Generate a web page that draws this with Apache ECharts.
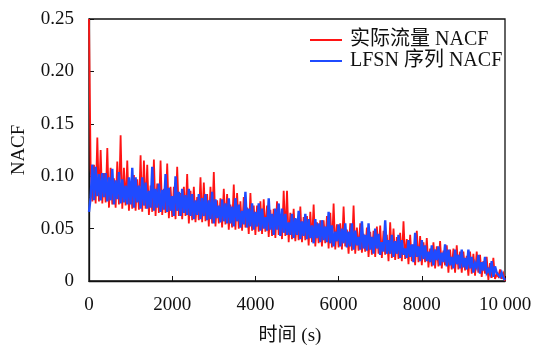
<!DOCTYPE html>
<html>
<head>
<meta charset="utf-8">
<script src="https://cdn.jsdelivr.net/npm/echarts@6/dist/echarts.min.js"></script>
<style>
  html, body { margin: 0; padding: 0; background: #fff; }
  #chart { width: 535px; height: 347px; }
</style>
</head>
<body>
<div id="chart"></div>
<script>
// Lag spacing between stored NACF samples (s)
const LAG_STEP = 40;

// NACF of the measured traffic
const trafficNacf = [
  0.250,0.107,0.076,0.111,0.074,0.137,0.076,0.125,0.074,0.103,
  0.075,0.127,0.070,0.108,0.073,0.098,0.070,0.114,0.073,0.139,
  0.069,0.108,0.072,0.115,0.067,0.095,0.069,0.101,0.067,0.097,
  0.068,0.120,0.066,0.115,0.069,0.111,0.063,0.091,0.066,0.116,
  0.062,0.093,0.065,0.115,0.063,0.088,0.065,0.112,0.060,0.090,
  0.061,0.090,0.059,0.109,0.062,0.084,0.059,0.090,0.062,0.102,
  0.055,0.086,0.058,0.090,0.056,0.080,0.058,0.099,0.056,0.094,
  0.057,0.083,0.052,0.090,0.055,0.104,0.052,0.077,0.055,0.079,
  0.051,0.088,0.054,0.083,0.049,0.073,0.051,0.092,0.049,0.084,
  0.050,0.076,0.048,0.080,0.051,0.070,0.045,0.084,0.048,0.072,
  0.044,0.072,0.047,0.076,0.045,0.078,0.047,0.072,0.042,0.068,
  0.043,0.069,0.041,0.076,0.044,0.063,0.040,0.086,0.043,0.086,
  0.037,0.065,0.040,0.069,0.038,0.059,0.039,0.071,0.037,0.061,
  0.039,0.062,0.034,0.066,0.037,0.073,0.033,0.056,0.036,0.058,
  0.033,0.058,0.036,0.062,0.031,0.065,0.032,0.074,0.030,0.054,
  0.032,0.055,0.030,0.071,0.033,0.049,0.026,0.055,0.029,0.072,
  0.026,0.051,0.029,0.055,0.027,0.045,0.028,0.051,0.023,0.047,
  0.025,0.048,0.023,0.052,0.026,0.053,0.022,0.048,0.025,0.044,
  0.019,0.056,0.022,0.050,0.020,0.042,0.021,0.046,0.019,0.057,
  0.021,0.040,0.016,0.044,0.019,0.035,0.015,0.048,0.018,0.043,
  0.015,0.037,0.018,0.041,0.013,0.031,0.014,0.037,0.012,0.033,
  0.014,0.038,0.012,0.029,0.015,0.034,0.008,0.030,0.011,0.031,
  0.008,0.034,0.011,0.028,0.008,0.028,0.010,0.024,0.005,0.028,
  0.007,0.026,0.005,0.028,0.008,0.025,0.004,0.019,0.007,0.023,
  0.001,0.017,0.003,0.022,0.002,0.006,0.004,0.011,0.002,0.007,
  0.000
];

// NACF of the LFSN sequence
const lfsnNacf = [
  0.066,0.080,0.111,0.077,0.109,0.081,0.102,0.077,0.103,0.080,
  0.103,0.076,0.099,0.077,0.107,0.073,0.096,0.078,0.104,0.074,
  0.097,0.075,0.091,0.073,0.099,0.073,0.108,0.070,0.099,0.075,
  0.091,0.069,0.099,0.072,0.094,0.069,0.086,0.070,0.109,0.067,
  0.088,0.070,0.093,0.066,0.087,0.068,0.102,0.066,0.089,0.067,
  0.081,0.062,0.100,0.067,0.085,0.062,0.088,0.065,0.082,0.063,
  0.088,0.062,0.083,0.059,0.077,0.063,0.083,0.059,0.079,0.062,
  0.083,0.058,0.077,0.059,0.085,0.055,0.078,0.060,0.072,0.056,
  0.078,0.057,0.074,0.055,0.079,0.055,0.071,0.052,0.079,0.057,
  0.073,0.051,0.067,0.054,0.085,0.051,0.069,0.052,0.074,0.049,
  0.066,0.052,0.074,0.048,0.069,0.050,0.061,0.048,0.079,0.049,
  0.064,0.044,0.069,0.049,0.074,0.043,0.069,0.046,0.064,0.044,
  0.056,0.044,0.064,0.041,0.060,0.044,0.067,0.040,0.057,0.043,
  0.064,0.040,0.059,0.041,0.053,0.036,0.059,0.041,0.055,0.037,
  0.058,0.039,0.052,0.037,0.066,0.036,0.053,0.033,0.047,0.038,
  0.054,0.033,0.050,0.036,0.055,0.032,0.047,0.033,0.055,0.030,
  0.048,0.034,0.042,0.030,0.057,0.031,0.044,0.029,0.055,0.030,
  0.042,0.026,0.050,0.031,0.045,0.025,0.037,0.028,0.058,0.026,
  0.039,0.026,0.044,0.023,0.038,0.026,0.044,0.022,0.039,0.025,
  0.031,0.022,0.039,0.023,0.035,0.018,0.046,0.023,0.033,0.019,
  0.039,0.021,0.034,0.019,0.028,0.018,0.034,0.015,0.030,0.020,
  0.033,0.015,0.027,0.018,0.035,0.014,0.030,0.015,0.023,0.012,
  0.030,0.016,0.025,0.012,0.030,0.013,0.022,0.011,0.030,0.012,
  0.023,0.008,0.017,0.013,0.025,0.007,0.018,0.010,0.023,0.008,
  0.011,0.007,0.019,0.004,0.014,0.008,0.006,0.004,0.008,0.003,
  0.001
];

const seriesNames = ['实际流量 NACF', 'LFSN 序列 NACF'];
const xTickValues = [0, 2000, 4000, 6000, 8000, 10000];
const xTickLabels = ['0', '2000', '4000', '6000', '8000', '10 000'];
const yTickValues = [0, 0.05, 0.10, 0.15, 0.20, 0.25];
const yTickLabels = ['0', '0.05', '0.10', '0.15', '0.20', '0.25'];

const FONT = "'Liberation Serif', 'DejaVu Serif', 'Noto Sans CJK SC', serif";
const RED = '#ff1414';
const BLUE = '#1f4bff';

function toPairs(values) {
  return values.map((v, i) => [i * LAG_STEP, v]);
}
function tickLabel(values, labels) {
  return function (v) {
    for (let k = 0; k < values.length; k++) {
      if (Math.abs(values[k] - v) < 1e-9) return labels[k];
    }
    return '';
  };
}

const chart = echarts.init(document.getElementById('chart'), null, { renderer: 'canvas' });
chart.setOption({
  animation: false,
  backgroundColor: '#fff',
  textStyle: { fontFamily: FONT, color: '#111' },
  grid: {
    left: 89, right: 30, top: 19, bottom: 66,
    show: true, borderColor: '#111', borderWidth: 1.3,
    containLabel: false, outerBoundsMode: 'none'
  },
  legend: {
    orient: 'vertical',
    left: 310, top: 30,
    padding: 0,
    itemGap: 1,
    itemWidth: 32, itemHeight: 2,
    icon: 'rect',
    textStyle: { fontFamily: FONT, fontSize: 20, color: '#111', lineHeight: 20, padding: [0, 0, 0, 3] },
    data: seriesNames
  },
  xAxis: {
    type: 'value',
    min: 0, max: 10000, interval: 2000,
    name: '时间 (s)',
    nameLocation: 'middle',
    nameGap: 46,
    nameTextStyle: { fontFamily: FONT, fontSize: 19, color: '#111', padding: [0, 14, 0, 0] },
    axisLine: { show: true, lineStyle: { color: '#111', width: 1.3 } },
    axisTick: { show: true, inside: true, length: 5, lineStyle: { color: '#111', width: 1 } },
    axisLabel: { fontFamily: FONT, fontSize: 19, color: '#111', margin: 15,
                 formatter: tickLabel(xTickValues, xTickLabels), showMaxLabel: true, showMinLabel: true },
    splitLine: { show: false }
  },
  yAxis: {
    type: 'value',
    min: 0, max: 0.25, interval: 0.05,
    name: 'NACF',
    nameLocation: 'middle',
    nameGap: 60,
    nameTextStyle: { fontFamily: FONT, fontSize: 19, color: '#111' },
    axisLine: { show: true, lineStyle: { color: '#111', width: 1.3 } },
    axisTick: { show: true, inside: true, length: 5, lineStyle: { color: '#111', width: 1 } },
    axisLabel: { fontFamily: FONT, fontSize: 19, color: '#111', margin: 15,
                 formatter: tickLabel(yTickValues, yTickLabels) },
    splitLine: { show: false }
  },
  series: [
    {
      name: seriesNames[0],
      type: 'line',
      data: toPairs(trafficNacf),
      showSymbol: false,
      symbol: 'none',
      sampling: null,
      color: RED,
      lineStyle: { width: 1.8, color: RED, join: 'miter', miterLimit: 4 },
      z: 2
    },
    {
      name: seriesNames[1],
      type: 'line',
      data: toPairs(lfsnNacf),
      showSymbol: false,
      symbol: 'none',
      sampling: null,
      color: BLUE,
      lineStyle: { width: 2.4, color: BLUE, join: 'miter', miterLimit: 4 },
      z: 3
    }
  ]
});
</script>
</body>
</html>
